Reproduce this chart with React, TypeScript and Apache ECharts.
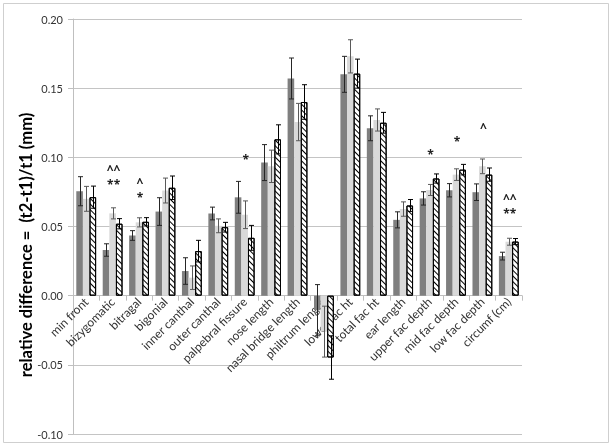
import React, { useEffect, useRef } from "react";
import * as echarts from "echarts";

const categories = [
  "min front", "bizygomatic", "bitragal", "bigonial", "inner canthal", "outer canthal",
  "palpebral fissure", "nose length", "nasal bridge length", "philtrum length",
  "lower fac ht", "total fac ht", "ear length", "upper fac depth", "mid fac depth",
  "low fac depth", "circumf (cm)",
];

const darkValues = [0.0755, 0.033, 0.0435, 0.0608, 0.0178, 0.0594, 0.0711, 0.0962, 0.157, -0.0105, 0.16, 0.121, 0.0548, 0.0703, 0.0762, 0.0748, 0.0286];
const darkErrors = [0.0105, 0.0045, 0.0035, 0.01, 0.0096, 0.0046, 0.0115, 0.013, 0.0148, 0.0185, 0.013, 0.009, 0.0058, 0.0048, 0.0048, 0.006, 0.0028];

const lightValues = [0.07, 0.0595, 0.053, 0.076, 0.013, 0.0505, 0.0585, 0.0935, 0.1255, -0.026, 0.173, 0.127, 0.0626, 0.0764, 0.0875, 0.0935, 0.039];
const lightErrors = [0.009, 0.004, 0.0033, 0.009, 0.0085, 0.005, 0.01, 0.0117, 0.0135, 0.0184, 0.012, 0.008, 0.0052, 0.004, 0.0042, 0.0053, 0.0025];

const hatchValues = [0.0712, 0.052, 0.0534, 0.078, 0.0322, 0.0495, 0.0418, 0.113, 0.14, -0.0447, 0.1605, 0.125, 0.0652, 0.0847, 0.0911, 0.0875, 0.0391];
const hatchErrors = [0.008, 0.0037, 0.003, 0.0085, 0.0078, 0.0035, 0.009, 0.0105, 0.0125, 0.0157, 0.0105, 0.0075, 0.0043, 0.0033, 0.0038, 0.0048, 0.0022];

const annCategories = [1, 2, 6, 13, 14, 15, 16];
const annValues = [0.0883, 0.0785, 0.1007, 0.1043, 0.1135, 0.1236, 0.0672];
const annTexts = ["^^\n**", "^\n*", "*", "*", "*", "^", "^^\n**"];

const yTicks = { min: -0.1, max: 0.2, interval: 0.05 };

const FONT = "Lato, 'Open Sans', sans-serif";
const BAR_FRAC = 0.25;

function errorSeries(values: number[], errors: number[], slot: number, color: string) {
  return {
    type: "custom",
    z: 5,
    silent: true,
    encode: { x: 0, y: 1 },
    data: values.map((v, i) => [i, v, errors[i]]),
    renderItem: (params: any, api: any) => {
      const idx = api.value(0);
      const v = api.value(1);
      const e = api.value(2);
      const band = api.size([1, 0])[0];
      const off = (slot - 1) * band * BAR_FRAC;
      const hi = api.coord([idx, v + e]);
      const lo = api.coord([idx, v - e]);
      const x = Math.round(hi[0] + off) + 0.5;
      const cap = 2.5;
      const style = { stroke: color, lineWidth: 1 };
      return {
        type: "group",
        children: [
          { type: "line", shape: { x1: x, y1: hi[1], x2: x, y2: lo[1] }, style },
          { type: "line", shape: { x1: x - cap, y1: hi[1], x2: x + cap, y2: hi[1] }, style },
          { type: "line", shape: { x1: x - cap, y1: lo[1], x2: x + cap, y2: lo[1] }, style },
        ],
      };
    },
  };
}

export default function App() {
  const ref = useRef<HTMLDivElement>(null);
  useEffect(() => {
    if (!ref.current) return;
    const chart = echarts.init(ref.current, null, { renderer: "svg" });
    chart.setOption({
      animation: false,
      grid: {
        left: 73,
        right: 92,
        top: 19,
        bottom: 14,
        containLabel: false,
        outerBounds: { left: -300, top: -300, right: -300, bottom: -400 },
      },
      xAxis: {
        type: "category",
        data: categories,
        axisLine: { onZero: true, lineStyle: { color: "#bfbfbf", width: 1 } },
        axisTick: { show: true, interval: 0, length: 5, lineStyle: { color: "#bfbfbf" } },
        axisLabel: { interval: 0, rotate: 45, margin: 4, fontSize: 12, fontFamily: FONT, color: "#333" },
      },
      yAxis: {
        type: "value",
        min: yTicks.min,
        max: yTicks.max,
        interval: yTicks.interval,
        axisLine: { show: true, lineStyle: { color: "#bfbfbf" } },
        axisTick: { show: true, length: 5, lineStyle: { color: "#bfbfbf" } },
        splitLine: { show: true, lineStyle: { color: "#c4c4c4" } },
        axisLabel: {
          margin: 10,
          fontSize: 11,
          fontFamily: FONT,
          color: "#333",
          formatter: (v: number) => v.toFixed(2),
        },
      },
      graphic: [
        {
          type: "rect",
          shape: { x: 3.5, y: 3.5, width: 605, height: 439 },
          style: { fill: "none", stroke: "#cfcfcf", lineWidth: 1 },
          silent: true,
        },
        {
          type: "text",
          x: 26,
          y: 245,
          rotation: Math.PI / 2,
          style: {
            text: "relative difference =  (t2-t1)/t1 (mm)",
            fontSize: 16.5,
            fontWeight: "bold",
            fontFamily: FONT,
            fill: "#000",
            align: "center",
            verticalAlign: "middle",
          },
        },
      ],
      series: [
        {
          type: "bar",
          data: darkValues,
          barWidth: BAR_FRAC * 100 + "%",
          barGap: "0%",
          itemStyle: { color: "#7f7f7f" },
        },
        {
          type: "bar",
          data: lightValues,
          barWidth: BAR_FRAC * 100 + "%",
          barGap: "0%",
          itemStyle: { color: "#d9d9d9" },
        },
        {
          type: "bar",
          data: hatchValues,
          barWidth: BAR_FRAC * 100 + "%",
          barGap: "0%",
          itemStyle: {
            color: "#ffffff",
            borderColor: "#000",
            borderWidth: 1,
            decal: {
              symbol: "rect",
              symbolSize: 1,
              symbolKeepAspect: false,
              dashArrayX: [1, 0],
              dashArrayY: [1, 2.2],
              rotation: Math.PI / 4,
              color: "#000",
            },
          },
        },
        errorSeries(darkValues, darkErrors, 0, "#262626"),
        errorSeries(lightValues, lightErrors, 1, "#595959"),
        errorSeries(hatchValues, hatchErrors, 2, "#000"),
        {
          type: "custom",
          z: 6,
          silent: true,
          encode: { x: 0, y: 1 },
          data: annCategories.map((c, i) => [c, annValues[i]]),
          renderItem: (params: any, api: any) => {
            const p = api.coord([api.value(0), api.value(1)]);
            return {
              type: "text",
              x: p[0] + 1,
              y: p[1] + 3,
              style: {
                text: annTexts[params.dataIndex],
                fontSize: 12,
                lineHeight: 15,
                fontWeight: "bold",
                fontFamily: "'Open Sans', sans-serif",
                fill: "#222",
                align: "center",
                verticalAlign: "middle",
              },
            };
          },
        },
      ],
    });
    // Move the category axis to the zero line, measured through the value scale
    const zeroY = chart.convertToPixel({ yAxisIndex: 0 }, 0) as number;
    const bottomY = chart.convertToPixel({ yAxisIndex: 0 }, yTicks.min) as number;
    chart.setOption({ xAxis: { offset: zeroY - bottomY } });
    return () => chart.dispose();
  }, []);
  return <div ref={ref} style={{ position: "fixed", left: 0, top: 0, width: 614, height: 448 }} />;
}
